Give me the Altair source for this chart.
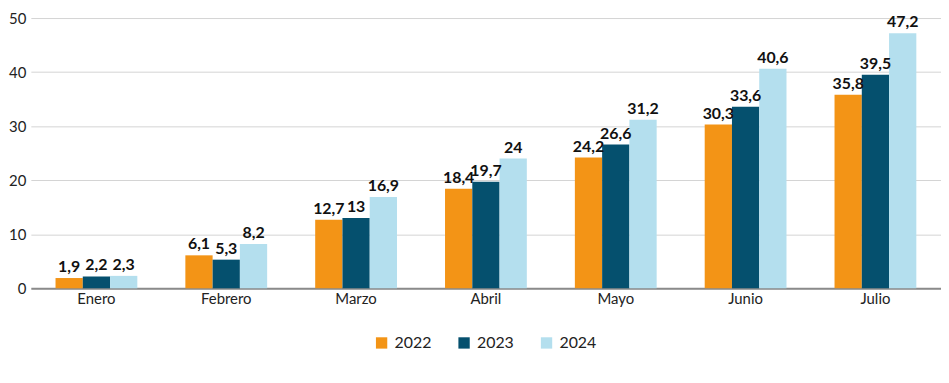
import altair as alt
import pandas as pd

months = ["Enero", "Febrero", "Marzo", "Abril", "Mayo", "Junio", "Julio"]
years = ["2022", "2023", "2024"]
v2022 = [1.9, 6.1, 12.7, 18.4, 24.2, 30.3, 35.8]
v2023 = [2.2, 5.3, 13, 19.7, 26.6, 33.6, 39.5]
v2024 = [2.3, 8.2, 16.9, 24, 31.2, 40.6, 47.2]
colors = ["#F39416", "#05506E", "#B4DFEE"]

rows = []
for yr, vals in zip(years, [v2022, v2023, v2024]):
    for m, v in zip(months, vals):
        rows.append({"mes": m, "anio": yr, "valor": v,
                     "etiqueta": (f"{v:g}").replace(".", ",")})
df = pd.DataFrame(rows)

FONT = "Lato"

base = alt.Chart(df).encode(
    x=alt.X("mes:N", sort=months, title=None,
            scale=alt.Scale(paddingInner=0.37, paddingOuter=0.19),
            axis=alt.Axis(labelAngle=0, ticks=False, grid=False, domainColor="#8a8a8a",
                          domainWidth=2, labelFontSize=15, labelColor="#222222",
                          labelPadding=3, labelFont=FONT)),
    xOffset=alt.XOffset("anio:N", sort=years, scale=alt.Scale(paddingInner=0, paddingOuter=0)),
)

bars = base.mark_bar().encode(
    y=alt.Y("valor:Q", title=None,
            scale=alt.Scale(domain=[0, 50]),
            axis=alt.Axis(values=[0, 10, 20, 30, 40, 50], domain=False, ticks=False,
                          gridColor="#d4d4d4", gridWidth=1, labelFontSize=15,
                          labelColor="#222222", labelPadding=5, labelFont=FONT)),
    color=alt.Color("anio:N", sort=years, title=None,
                    scale=alt.Scale(domain=years, range=colors),
                    legend=alt.Legend(orient="none", legendX=345, legendY=319,
                                      direction="horizontal",
                                      symbolType="square", symbolSize=130,
                                      symbolStrokeWidth=0, labelFontSize=16,
                                      labelFont=FONT, labelColor="#222222",
                                      columnPadding=24, labelOffset=5)),
)

labels = base.mark_text(dy=-11, fontSize=16, fontWeight="bold", font=FONT,
                        color="#111111").encode(
    y=alt.Y("valor:Q"),
    text="etiqueta:N",
)

chart = alt.layer(bars, labels).properties(
    width=916, height=272, padding={"left": 0, "top": 2, "right": 0, "bottom": 0}
).configure_view(stroke=None)

chart.save("out.html", embed_options={"renderer": "svg", "actions": False})
